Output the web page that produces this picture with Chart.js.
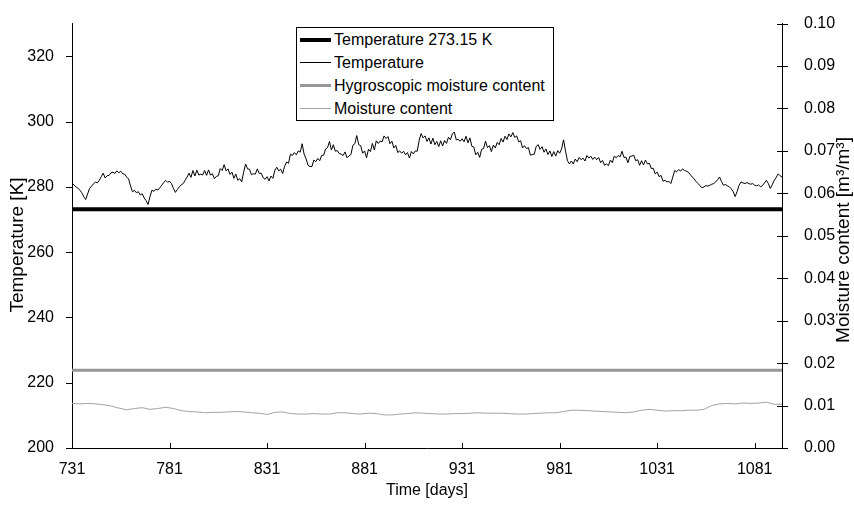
<!DOCTYPE html>
<html>
<head>
<meta charset="utf-8">
<script src="https://cdn.jsdelivr.net/npm/chart.js@4.4.1/dist/chart.umd.min.js"></script>
<style>
  body { margin: 0; background: #fff; }
  #wrap { position: relative; width: 854px; height: 512px; }
  #legend {
    position: absolute; left: 296px; top: 27px;
    border: 1px solid #000; background: #fff;
    padding: 0 8px 0 3px;
    font: 16px "Liberation Sans", Arial, sans-serif; color: #000;
  }
  #legend .row { height: 23px; display: flex; align-items: center; white-space: nowrap; }
  #legend .sw { display: inline-block; width: 31px; margin-right: 3px; }
</style>
</head>
<body>
<div id="wrap">
  <canvas id="soilChart" width="854" height="512"></canvas>
  <div id="legend"></div>
</div>
<script>
// days 731..1095, one value per day [K]
const tempStart = 731;
const tempValues = [
  281.0, 280.6, 280.0, 279.6, 279.0, 278.2, 277.0, 276.1, 277.8, 279.5,
  280.2, 280.9, 281.5, 281.2, 282.0, 283.1, 284.2, 282.7, 283.4, 283.5,
  284.3, 284.5, 284.1, 284.9, 284.3, 284.8, 284.0, 283.9, 283.0, 282.4,
  280.3, 278.5, 278.9, 278.2, 278.5, 277.5, 277.9, 276.6, 275.8, 274.6,
  277.0, 279.0, 278.6, 279.3, 279.0, 279.7, 280.5, 281.3, 282.0, 281.4,
  281.7, 281.0, 279.5, 278.3, 279.2, 280.0, 280.6, 281.0, 282.0, 283.0,
  284.2, 282.9, 285.0, 283.3, 285.1, 283.6, 283.9, 283.6, 285.0, 283.5,
  285.2, 283.6, 284.0, 282.5, 283.2, 283.4, 285.6, 285.0, 286.8, 284.9,
  285.5, 283.8, 284.5, 282.6, 283.9, 282.0, 282.5, 281.5, 284.5, 287.0,
  285.5, 285.4, 283.7, 284.0, 283.9, 285.5, 284.1, 284.2, 282.8, 282.3,
  283.1, 281.8, 283.3, 282.6, 285.1, 286.0, 284.9, 285.4, 284.1, 286.3,
  287.6, 287.2, 290.0, 289.6, 290.5, 289.8, 291.0, 290.6, 293.2, 290.0,
  288.6, 286.6, 286.2, 286.2, 288.2, 287.7, 288.7, 288.0, 289.6, 289.7,
  291.6, 292.0, 293.9, 291.3, 292.9, 290.9, 291.1, 290.2, 290.0, 289.6,
  290.7, 288.9, 289.5, 289.9, 292.7, 293.2, 295.7, 292.9, 292.6, 290.3,
  291.0, 288.9, 291.5, 290.8, 293.3, 291.3, 294.1, 293.3, 294.0, 293.8,
  295.6, 294.8, 295.4, 293.2, 294.0, 291.9, 292.7, 290.5, 291.0, 290.3,
  290.9, 289.8, 290.5, 288.8, 290.8, 290.1, 291.0, 290.9, 294.3, 296.3,
  295.0, 295.6, 293.9, 295.0, 293.1, 294.9, 292.9, 293.9, 292.3, 294.1,
  292.5, 294.2, 293.3, 295.2, 294.4, 296.2, 296.8, 294.4, 294.5, 294.0,
  294.7, 293.8, 295.5, 293.5, 295.0, 292.4, 292.2, 289.8, 290.6, 289.0,
  291.5, 291.7, 294.0, 292.0, 292.6, 290.8, 292.8, 291.9, 293.6, 292.9,
  294.8, 293.7, 295.5, 294.5, 296.2, 295.3, 296.6, 295.1, 295.6, 293.8,
  294.1, 291.9, 292.6, 291.7, 292.0, 289.7, 289.9, 290.0, 292.4, 292.9,
  291.5, 292.3, 290.6, 291.6, 289.9, 291.0, 289.3, 290.8, 289.4, 291.1,
  290.3, 291.6, 294.4, 291.0, 288.0, 287.0, 287.9, 287.0, 288.5, 287.7,
  289.0, 288.3, 288.8, 287.9, 289.6, 288.8, 289.4, 288.4, 289.1, 288.3,
  289.0, 287.4, 288.1, 286.6, 287.0, 286.5, 288.2, 287.4, 289.4, 288.9,
  289.6, 289.2, 290.9, 289.0, 289.1, 287.4, 289.3, 289.4, 289.7, 288.0,
  288.3, 286.6, 288.0, 286.7, 288.2, 287.0, 287.2, 285.6, 285.7, 284.0,
  284.5, 283.1, 283.5, 281.7, 282.0, 281.5, 281.7, 281.0, 283.0, 285.0,
  284.6, 285.3, 284.8, 285.5, 285.0, 284.8, 284.5, 283.7, 283.0, 282.4,
  281.6, 281.0, 280.3, 279.7, 280.0, 280.4, 280.2, 280.5, 280.8, 281.0,
  281.5, 282.2, 283.0, 281.6, 280.5, 280.7, 280.3, 280.0, 279.4, 278.5,
  277.0, 278.6, 280.5, 281.5, 281.2, 281.0, 281.3, 281.0, 280.8, 281.0,
  280.5, 280.3, 280.6, 280.0, 280.4, 281.2, 282.0, 281.0, 279.5, 280.6,
  282.0, 282.8, 284.0, 283.4, 283.0
];

// moisture content [m3/m3], every 4 days from day 731
const moistStart = 731;
const moistStep = 4;
const moistValues = [
  0.0105, 0.0104, 0.0105, 0.0104, 0.0102, 0.0099, 0.0094, 0.0090, 0.0093, 0.0095,
  0.0091, 0.0093, 0.0096, 0.0093, 0.0088, 0.0086, 0.0085, 0.0083, 0.0084, 0.0084,
  0.0085, 0.0086, 0.0085, 0.0083, 0.0082, 0.0079, 0.0084, 0.0085, 0.0081, 0.0080,
  0.0080, 0.0081, 0.0080, 0.0080, 0.0083, 0.0083, 0.0081, 0.0080, 0.0082, 0.0081,
  0.0078, 0.0078, 0.0080, 0.0081, 0.0083, 0.0082, 0.0081, 0.0080, 0.0080, 0.0081,
  0.0081, 0.0082, 0.0083, 0.0082, 0.0082, 0.0082, 0.0081, 0.0080, 0.0080, 0.0081,
  0.0082, 0.0083, 0.0083, 0.0086, 0.0089, 0.0089, 0.0088, 0.0087, 0.0086, 0.0085,
  0.0084, 0.0083, 0.0085, 0.0089, 0.0091, 0.0089, 0.0087, 0.0088, 0.0088, 0.0089,
  0.0089, 0.0091, 0.0100, 0.0104, 0.0105, 0.0104, 0.0106, 0.0105, 0.0106, 0.0108,
  0.0103, 0.0103
];

const freezingK = 273.15;
const hygroscopicMC = 0.0183;

const dayRange = [731, 1095];
const dayTicks = [731, 781, 831, 881, 931, 981, 1031, 1081];
const tempTicks = [200, 220, 240, 260, 280, 300, 320];
const tempRange = [200, 330];
const moistTicks = [0, 0.01, 0.02, 0.03, 0.04, 0.05, 0.06, 0.07, 0.08, 0.09, 0.1];
const moistRange = [0, 0.1];

const FONT = '"Liberation Sans", Arial, sans-serif';

const tempPoints = tempValues.map((v, i) => ({x: tempStart + i, y: v}));
const moistPoints = moistValues.map((v, i) => ({x: moistStart + i * moistStep, y: v}));

const datasets = [
  {
    label: 'Temperature 273.15 K',
    data: [{x: dayRange[0], y: freezingK}, {x: dayRange[1], y: freezingK}],
    borderColor: '#000', borderWidth: 4, yAxisID: 'y'
  },
  {
    label: 'Temperature',
    data: tempPoints,
    borderColor: '#000', borderWidth: 1, yAxisID: 'y'
  },
  {
    label: 'Hygroscopic moisture content',
    data: [{x: dayRange[0], y: hygroscopicMC}, {x: dayRange[1], y: hygroscopicMC}],
    borderColor: '#969696', borderWidth: 3, yAxisID: 'y2'
  },
  {
    label: 'Moisture content',
    data: moistPoints,
    borderColor: '#a3a3a3', borderWidth: 1, yAxisID: 'y2'
  }
];

// tick marks and the two vertical axis titles
const axisDecor = {
  id: 'axisDecor',
  afterDraw(chart) {
    const {ctx, chartArea: a, scales} = chart;
    ctx.save();
    ctx.strokeStyle = '#000';
    ctx.lineWidth = 1;
    ctx.beginPath();
    scales.x.ticks.forEach(t => {
      const px = Math.round(scales.x.getPixelForValue(t.value)) + 0.5;
      ctx.moveTo(px, a.bottom);
      ctx.lineTo(px, a.bottom - 5);
    });
    scales.y.ticks.forEach(t => {
      const py = Math.round(scales.y.getPixelForValue(t.value)) + 0.5;
      ctx.moveTo(a.left, py);
      ctx.lineTo(a.left - 6, py);
    });
    scales.y2.ticks.forEach(t => {
      const py = Math.round(scales.y2.getPixelForValue(t.value)) + 0.5;
      ctx.moveTo(a.right - 5, py);
      ctx.lineTo(a.right + 6, py);
    });
    ctx.stroke();

    ctx.fillStyle = '#000';
    ctx.font = '19px ' + FONT;
    ctx.textAlign = 'center';
    ctx.textBaseline = 'middle';
    ctx.translate(18, 245);
    ctx.rotate(-Math.PI / 2);
    ctx.fillText('Temperature [K]', 0, 0);
    ctx.setTransform(1, 0, 0, 1, 0, 0);
    ctx.translate(844, 240);
    ctx.rotate(-Math.PI / 2);
    ctx.fillText('Moisture content [m³/m³]', 0, 0);
    ctx.restore();
  }
};

const chart = new Chart('soilChart', {
  type: 'line',
  data: {datasets},
  options: {
    responsive: false,
    animation: false,
    devicePixelRatio: 1,
    layout: {padding: {top: 11, left: 0, right: 0, bottom: 0}},
    elements: {point: {radius: 0}, line: {tension: 0}},
    plugins: {legend: {display: false}, tooltip: {enabled: false}},
    scales: {
      x: {
        type: 'linear', position: 'bottom',
        min: dayRange[0], max: dayRange[1],
        afterBuildTicks: s => { s.ticks = dayTicks.map(v => ({value: v})); },
        afterFit: s => { s.height = 64; },
        grid: {display: false},
        border: {display: true, color: '#000', width: 1},
        ticks: {color: '#000', font: {family: FONT, size: 16}, padding: 4, maxRotation: 0, autoSkip: false,
                callback: v => String(v)},
        title: {display: true, text: 'Time [days]', color: '#000', font: {family: FONT, size: 16}, padding: {top: 0, bottom: 12}}
      },
      y: {
        type: 'linear', position: 'left',
        min: tempRange[0], max: tempRange[1],
        afterBuildTicks: s => { s.ticks = tempTicks.map(v => ({value: v})); },
        afterFit: s => { s.width = 72; },
        grid: {display: false},
        border: {display: true, color: '#000', width: 1},
        ticks: {color: '#000', font: {family: FONT, size: 16}, padding: 10}
      },
      y2: {
        type: 'linear', position: 'right',
        min: moistRange[0], max: moistRange[1],
        afterBuildTicks: s => { s.ticks = moistTicks.map(v => ({value: v})); },
        afterFit: s => { s.width = 72; },
        grid: {display: false},
        border: {display: true, color: '#000', width: 1},
        ticks: {color: '#000', font: {family: FONT, size: 16}, padding: 14, callback: v => v.toFixed(2)}
      }
    }
  },
  plugins: [axisDecor]
});

// legend box inside the plot
const legend = document.getElementById('legend');
chart.data.datasets.forEach(ds => {
  const row = document.createElement('div');
  row.className = 'row';
  const sw = document.createElement('span');
  sw.className = 'sw';
  sw.style.borderTop = ds.borderWidth + 'px solid ' + ds.borderColor;
  row.appendChild(sw);
  row.appendChild(document.createTextNode(ds.label));
  legend.appendChild(row);
});
</script>
</body>
</html>
